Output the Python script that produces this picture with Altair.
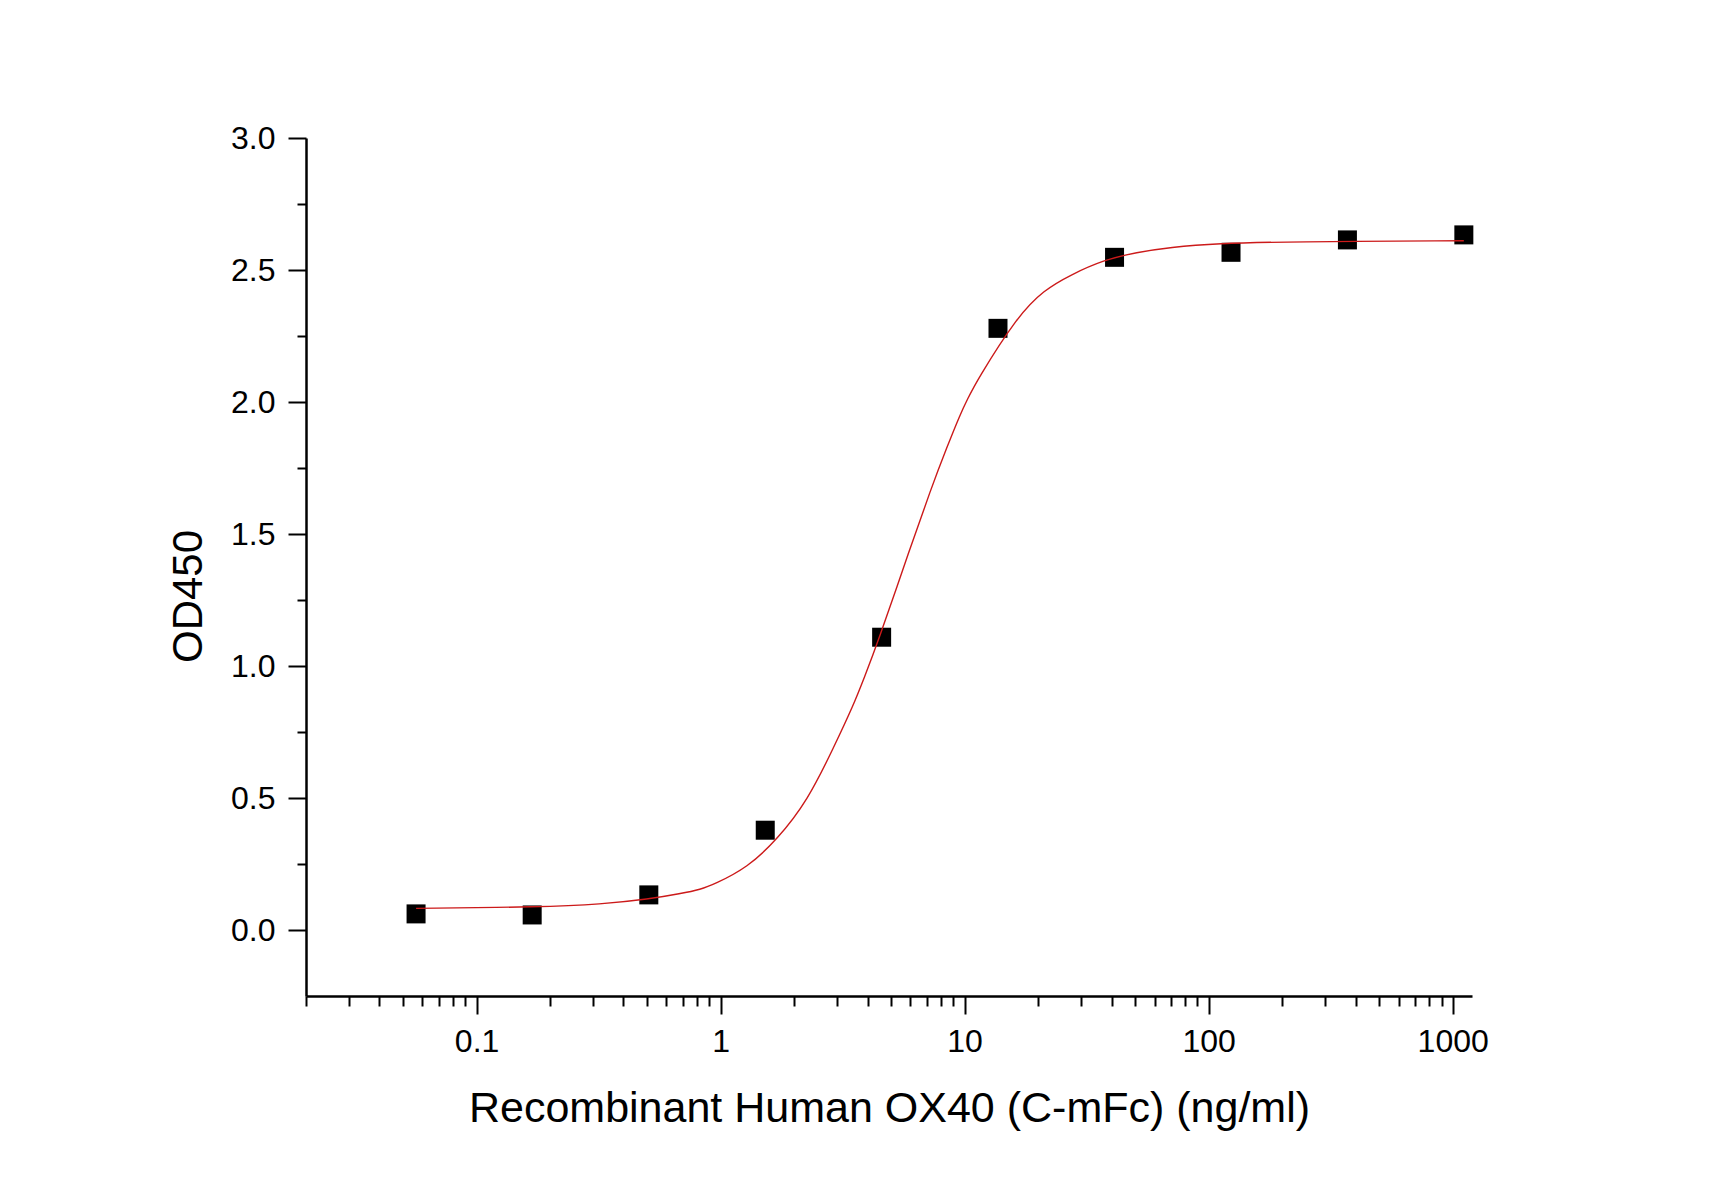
import altair as alt
import pandas as pd

# Measured binding data: concentration (ng/ml) and OD450
conc = [0.0565, 0.169, 0.508, 1.524, 4.57, 13.7, 41.15, 123.5, 370.4, 1111.1]
od450 = [0.061, 0.057, 0.133, 0.378, 1.109, 2.279, 2.548, 2.567, 2.614, 2.633]

# Points along the fitted dose-response curve
curve_conc = [0.0565, 0.184, 0.324, 0.51, 0.687, 0.83, 0.94, 1.288, 1.71, 2.27,
              2.91, 3.52, 3.86, 4.39, 6.0, 7.24, 8.47, 9.62, 10.23, 11.25,
              16.4, 21.1, 27.1, 37.1, 50.7, 69.5, 108, 215, 1111.1]
curve_od = [0.082, 0.087, 0.0975, 0.117, 0.138, 0.154, 0.173, 0.236, 0.344, 0.489,
            0.692, 0.856, 0.951, 1.084, 1.450, 1.665, 1.830, 1.956, 2.007, 2.083,
            2.323, 2.424, 2.481, 2.538, 2.567, 2.586, 2.601, 2.607, 2.611]

# Axis tick positions
x_major = [0.1, 1, 10, 100, 1000]
x_minor = [0.02, 0.03, 0.04, 0.05, 0.06, 0.07, 0.08, 0.09,
           0.2, 0.3, 0.4, 0.5, 0.6, 0.7, 0.8, 0.9,
           2, 3, 4, 5, 6, 7, 8, 9,
           20, 30, 40, 50, 60, 70, 80, 90,
           200, 300, 400, 500, 600, 700, 800, 900]
y_major = [0.0, 0.5, 1.0, 1.5, 2.0, 2.5, 3.0]
y_minor = [0.25, 0.75, 1.25, 1.75, 2.25, 2.75]

points = pd.DataFrame({"conc": conc, "od": od450})
curve = pd.DataFrame({"conc": curve_conc, "od": curve_od})

FONT = "Liberation Sans"
W, H = 1166, 858

xs = alt.Scale(type="log", domain=[0.02, 1200], nice=False)
ys = alt.Scale(domain=[-0.25, 3.0], nice=False, zero=False)

x_axis_major = alt.Axis(
    orient="bottom", values=x_major, format="~g", grid=False,
    domainColor="black", domainWidth=2.5, tickColor="black", tickWidth=2,
    tickSize=18, labelFont=FONT, labelFontSize=32, labelColor="black",
    labelBaseline="alphabetic", labelPadding=37, labelFlush=False,
    labelOverlap=False,
    title="Recombinant Human OX40 (C-mFc) (ng/ml)", titleFont=FONT,
    titleFontSize=43, titleFontWeight="normal", titleColor="black",
    titleX=W / 2, titleY=125, titleAlign="center", titleBaseline="alphabetic",
)
x_axis_minor = alt.Axis(
    orient="bottom", values=x_minor, labels=False, grid=False, domain=False,
    tickColor="black", tickWidth=2, tickSize=10, title=None,
)
y_axis_major = alt.Axis(
    orient="left", values=y_major, format=".1f", grid=False,
    domainColor="black", domainWidth=2.5, tickColor="black", tickWidth=2,
    tickSize=18, labelFont=FONT, labelFontSize=32, labelColor="black",
    labelPadding=13, labelFlush=False, labelOverlap=False,
    title="OD450", titleFont=FONT, titleFontSize=42, titleFontWeight="normal",
    titleColor="black", titleX=-105, titleY=458, titleAngle=270,
    titleAlign="center", titleBaseline="alphabetic",
)
y_axis_minor = alt.Axis(
    orient="left", values=y_minor, labels=False, grid=False, domain=False,
    tickColor="black", tickWidth=2, tickSize=9, title=None,
)

squares = alt.Chart(points).mark_point(
    shape="square", filled=True, size=361, color="black", opacity=1
).encode(
    x=alt.X("conc:Q", scale=xs, axis=x_axis_major),
    y=alt.Y("od:Q", scale=ys, axis=y_axis_major),
)

fit_line = alt.Chart(curve).mark_line(
    color="#cc1a1a", strokeWidth=1.4, interpolate="basis"
).encode(
    x=alt.X("conc:Q", scale=xs, axis=x_axis_minor),
    y=alt.Y("od:Q", scale=ys, axis=y_axis_minor),
)

chart = alt.layer(squares, fit_line).resolve_axis(
    x="independent", y="independent"
).properties(
    width=W, height=H,
    autosize=alt.AutoSizeParams(type="none"),
    padding={"left": 306, "top": 138, "right": 238, "bottom": 198},
    background="white",
).configure_view(stroke=None)

chart.save("out.html", embed_options={"renderer": "svg", "actions": False})
